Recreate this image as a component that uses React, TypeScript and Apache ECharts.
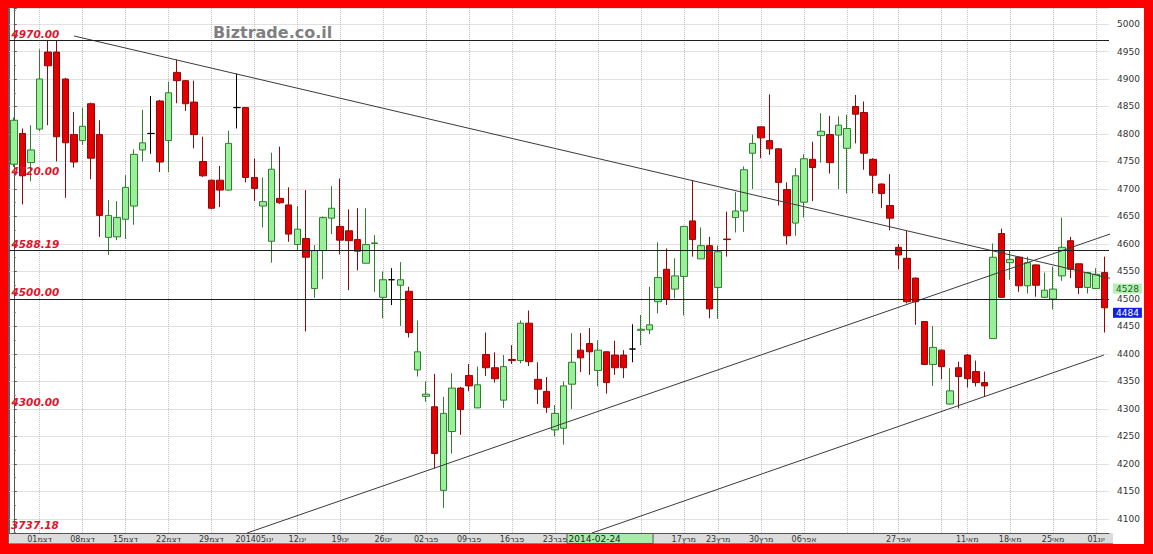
import React, { useEffect, useRef } from "react";
import * as echarts from "echarts";

// Trading days (categories)
const dates: string[] = [
  "2013-11-26", "2013-11-27", "2013-11-28",
  "2013-12-01", "2013-12-02", "2013-12-03", "2013-12-04", "2013-12-05",
  "2013-12-08", "2013-12-09", "2013-12-10", "2013-12-11", "2013-12-12",
  "2013-12-15", "2013-12-16", "2013-12-17", "2013-12-18", "2013-12-19",
  "2013-12-22", "2013-12-23", "2013-12-24", "2013-12-25", "2013-12-26",
  "2013-12-29", "2013-12-30", "2013-12-31", "2014-01-01", "2014-01-02",
  "2014-01-05", "2014-01-06", "2014-01-07", "2014-01-08", "2014-01-09",
  "2014-01-12", "2014-01-13", "2014-01-14", "2014-01-15", "2014-01-16",
  "2014-01-19", "2014-01-20", "2014-01-21", "2014-01-22", "2014-01-23",
  "2014-01-26", "2014-01-27", "2014-01-28", "2014-01-29", "2014-01-30",
  "2014-02-02", "2014-02-03", "2014-02-04", "2014-02-05", "2014-02-06",
  "2014-02-09", "2014-02-10", "2014-02-11", "2014-02-12", "2014-02-13",
  "2014-02-16", "2014-02-17", "2014-02-18", "2014-02-19", "2014-02-20",
  "2014-02-23", "2014-02-24", "2014-02-25", "2014-02-26", "2014-02-27",
  "2014-03-02", "2014-03-03", "2014-03-04", "2014-03-05", "2014-03-06",
  "2014-03-09", "2014-03-10", "2014-03-11", "2014-03-12", "2014-03-13",
  "2014-03-17", "2014-03-18", "2014-03-19", "2014-03-20",
  "2014-03-23", "2014-03-24", "2014-03-25", "2014-03-26", "2014-03-27",
  "2014-03-30", "2014-03-31", "2014-04-01", "2014-04-02", "2014-04-03",
  "2014-04-06", "2014-04-07", "2014-04-08", "2014-04-09", "2014-04-10",
  "2014-04-13", "2014-04-16", "2014-04-17",
  "2014-04-22", "2014-04-23", "2014-04-24",
  "2014-04-27", "2014-04-28", "2014-04-29", "2014-04-30", "2014-05-01",
  "2014-05-04", "2014-05-07", "2014-05-08",
  "2014-05-11", "2014-05-12", "2014-05-13", "2014-05-14", "2014-05-15",
  "2014-05-18", "2014-05-19", "2014-05-20", "2014-05-21", "2014-05-22",
  "2014-05-25", "2014-05-26", "2014-05-27", "2014-05-28", "2014-05-29",
  "2014-06-01", "2014-06-02",
];

const opens: number[] = [
  4745, 4801, 4748, 4809, 4949, 4949, 4900, 4799, 4788, 4855,
  4799, 4612, 4613, 4645, 4669, 4771, 4801, 4860, 4788, 4912,
  4897, 4858, 4750, 4716, 4716, 4698, 4848, 4848, 4721, 4669,
  4605, 4683, 4671, 4599, 4610, 4519, 4588, 4647, 4632, 4624,
  4608, 4565, 4601, 4503, 4535, 4525, 4514, 4371, 4323, 4304,
  4152, 4259, 4338, 4361, 4302, 4399, 4375, 4316, 4390, 4388,
  4456, 4354, 4332, 4262, 4265, 4345, 4407, 4419, 4370, 4404,
  4398, 4398, 4409, 4443, 4444, 4495, 4554, 4518, 4541, 4642,
  4573, 4597, 4521, 4609, 4648, 4660, 4765, 4813, 4788, 4773,
  4699, 4638, 4676, 4754, 4797, 4799, 4798, 4774, 4850, 4839,
  4754, 4709, 4670, 4594, 4574, 4538, 4459, 4381, 4407, 4309,
  4375, 4398, 4368, 4348, 4428, 4619, 4566, 4576, 4524, 4562,
  4503, 4500, 4542, 4606, 4564, 4521, 4519, 4548,
];
const closes: number[] = [
  4825, 4724, 4771, 4900, 4924, 4795, 4784, 4749, 4814, 4756,
  4652, 4652, 4648, 4703, 4763, 4784, 4801, 4749, 4875, 4897,
  4855, 4799, 4724, 4665, 4698, 4783, 4848, 4721, 4701, 4677,
  4736, 4675, 4618, 4627, 4576, 4588, 4648, 4665, 4607, 4606,
  4587, 4599, 4602, 4535, 4535, 4535, 4439, 4404, 4327, 4219,
  4292, 4338, 4299, 4342, 4344, 4375, 4355, 4377, 4388, 4456,
  4386, 4336, 4303, 4292, 4342, 4385, 4393, 4404, 4407, 4348,
  4375, 4375, 4409, 4445, 4453, 4539, 4500, 4542, 4632, 4608,
  4597, 4482, 4586, 4608, 4660, 4735, 4783, 4793, 4773, 4712,
  4615, 4724, 4755, 4739, 4805, 4748, 4816, 4810, 4836, 4765,
  4725, 4692, 4647, 4580, 4495, 4495, 4381, 4412, 4377, 4333,
  4359, 4355, 4348, 4342, 4576, 4503, 4572, 4524, 4566, 4525,
  4516, 4518, 4594, 4554, 4521, 4548, 4545, 4484,
];
const lows: number[] = [
  4740, 4672, 4714, 4805, 4816, 4750, 4684, 4739, 4780, 4718,
  4613, 4580, 4607, 4609, 4635, 4750, 4764, 4731, 4731, 4856,
  4842, 4774, 4722, 4663, 4667, 4697, 4810, 4712, 4678, 4630,
  4566, 4673, 4604, 4588, 4441, 4502, 4536, 4618, 4581, 4516,
  4552, 4565, 4513, 4465, 4489, 4451, 4430, 4359, 4313, 4192,
  4120, 4219, 4253, 4332, 4302, 4360, 4348, 4302, 4382, 4383,
  4378, 4309, 4293, 4250, 4235, 4300, 4367, 4362, 4341, 4328,
  4362, 4356, 4385, 4416, 4436, 4474, 4489, 4501, 4470, 4577,
  4573, 4465, 4464, 4577, 4621, 4622, 4700, 4756, 4762, 4670,
  4599, 4615, 4648, 4678, 4748, 4728, 4700, 4692, 4783, 4735,
  4692, 4665, 4625, 4554, 4492, 4453, 4380, 4342, 4354, 4308,
  4301, 4339, 4341, 4322, 4428, 4502, 4535, 4513, 4510, 4504,
  4502, 4481, 4533, 4538, 4509, 4510, 4518, 4439,
];
const highs: number[] = [
  4830, 4810, 4816, 4954, 4971, 4971, 4902, 4840, 4848, 4857,
  4825, 4680, 4678, 4725, 4772, 4844, 4869, 4862, 4895, 4935,
  4898, 4897, 4795, 4717, 4742, 4806, 4910, 4849, 4755, 4721,
  4766, 4777, 4703, 4669, 4698, 4598, 4650, 4705, 4719, 4663,
  4665, 4665, 4616, 4550, 4556, 4567, 4522, 4461, 4350, 4364,
  4322, 4365, 4340, 4382, 4377, 4439, 4403, 4398, 4416, 4461,
  4479, 4385, 4358, 4307, 4350, 4438, 4438, 4447, 4425, 4405,
  4424, 4407, 4454, 4471, 4522, 4603, 4592, 4574, 4633, 4716,
  4630, 4613, 4597, 4659, 4694, 4741, 4799, 4814, 4872, 4774,
  4712, 4738, 4763, 4786, 4838, 4833, 4832, 4835, 4871, 4859,
  4756, 4710, 4727, 4600, 4624, 4539, 4460, 4451, 4408, 4374,
  4386, 4400, 4388, 4368, 4601, 4628, 4589, 4577, 4577, 4563,
  4548, 4559, 4648, 4613, 4565, 4549, 4556, 4577,
];

// Doji days drawn in black
const blackDojiDates: string[] = ["2013-12-18", "2014-01-01", "2014-01-27", "2014-03-06"];

// Week grid lines and x-axis tick labels
const weekStarts: string[] = [
  "2013-12-01", "2013-12-08", "2013-12-15", "2013-12-22", "2013-12-29",
  "2014-01-05", "2014-01-12", "2014-01-19", "2014-01-26", "2014-02-02",
  "2014-02-09", "2014-02-16", "2014-02-23", "2014-03-02", "2014-03-09",
  "2014-03-17", "2014-03-23", "2014-03-30", "2014-04-06", "2014-04-13",
  "2014-04-22", "2014-04-27", "2014-05-04", "2014-05-11", "2014-05-18",
  "2014-05-25", "2014-06-01",
];
const labelDates: string[] = [
  "2013-12-01", "2013-12-08", "2013-12-15", "2013-12-22", "2013-12-29",
  "2014-01-05", "2014-01-12", "2014-01-19", "2014-01-26", "2014-02-02",
  "2014-02-09", "2014-02-16", "2014-02-23", "2014-03-17", "2014-03-23",
  "2014-03-30", "2014-04-06", "2014-04-27", "2014-05-11", "2014-05-18",
  "2014-05-25", "2014-06-01",
];
const labelTexts: string[] = [
  "01דצמ", "08דצמ", "15דצמ", "22דצמ", "29דצמ",
  "201405ינו", "12ינו", "19ינו", "26ינו", "02פבר",
  "09פבר", "16פבר", "23פבר", "17מרץ", "23מרץ",
  "30מרץ", "06אפר", "27אפר", "11מאי", "18מאי",
  "25מאי", "01יונ",
];
const cursorDate = "2014-02-24";

// Horizontal levels
const levelValues: number[] = [4970, 4720, 4588.19, 4500, 4300];
const levelHasLine: boolean[] = [true, false, true, true, false];
const offscaleLevel = 3737.18;

// Trend lines: [index position, value]
const trendDown: number[][] = [[7.02, 4978.2], [127.97, 4536.4]];
const trendUp: number[][] = [[27.16, 4074.5], [127.97, 4620]];
const trendUpLow: number[][] = [[67.3, 4074.5], [126.9, 4398]];

const refPrice = 4528;
const lastPrice = 4484;

const RED_LABEL = "#e0142a";

export default function App() {
  const ref = useRef<HTMLDivElement>(null);

  useEffect(() => {
    const chart = echarts.init(ref.current!, null, { renderer: "svg" });
    const weekSet = new Set(weekStarts);
    const labelMap = new Map<string, string>(labelDates.map((d, i) => [d, labelTexts[i]]));

    const candleData = dates.map((d, i) => {
      const v = [opens[i], closes[i], lows[i], highs[i]];
      if (blackDojiDates.includes(d)) {
        return {
          value: v,
          itemStyle: {
            color: "#000",
            color0: "#000",
            borderColor: "#000",
            borderColor0: "#000",
            borderColorDoji: "#000",
          },
        };
      }
      return v;
    });

    const levelMarks: any[] = levelValues.map((lv, i) => ({
      yAxis: lv,
      lineStyle: {
        color: levelHasLine[i] ? "#1e1e1e" : "rgba(0,0,0,0)",
        width: 1,
        type: "solid",
      },
      label: {
        show: true,
        position: "insideStartTop",
        formatter: lv.toFixed(2),
        color: RED_LABEL,
        fontStyle: "italic",
        fontWeight: "bold",
        fontSize: 10.5,
        fontFamily: "DejaVu Sans",
        distance: [2, 1],
      },
    }));

    const tagMarks: any[] = [
      {
        yAxis: refPrice,
        lineStyle: { color: "rgba(0,0,0,0)" },
        label: {
          show: true,
          position: "end",
          formatter: String(refPrice),
          backgroundColor: "#b4f0b4",
          color: "#1d5e1d",
          fontSize: 9,
          fontFamily: "DejaVu Sans",
          padding: [1, 3, 0, 3],
          distance: 4,
          offset: [0, 5],
        },
      },
      {
        yAxis: lastPrice,
        lineStyle: { color: "rgba(0,0,0,0)" },
        label: {
          show: true,
          position: "end",
          formatter: String(lastPrice),
          backgroundColor: "#1020e0",
          color: "#ffffff",
          fontSize: 9,
          fontFamily: "DejaVu Sans",
          padding: [1, 3, 0, 3],
          distance: 4,
          offset: [0, 5],
        },
      },
    ];

    const trendSeries = [trendDown, trendUp, trendUpLow].map((seg) => ({
      type: "line",
      xAxisIndex: 1,
      yAxisIndex: 0,
      data: seg,
      symbol: "none",
      clip: false,
      silent: true,
      z: 4,
      lineStyle: { color: "#3a3a3a", width: 1 },
    }));

    chart.setOption({
      animation: false,
      backgroundColor: "transparent",
      grid: { left: 9.5, top: 8, width: 1099.5, height: 525, containLabel: false, outerBoundsMode: "none" },
      xAxis: [
        {
          type: "category",
          data: dates,
          boundaryGap: true,
          axisLine: { show: true, lineStyle: { color: "#555" } },
          axisTick: { show: false },
          axisLabel: {
            interval: (_i: number, v: string) => labelMap.has(v),
            formatter: (v: string) => labelMap.get(v) ?? "",
            color: "#333",
            fontSize: 8,
            fontFamily: "DejaVu Sans",
            margin: 2,
            hideOverlap: false,
          },
          splitLine: {
            show: true,
            alignWithLabel: true,
            interval: (_i: number, v: string) => weekSet.has(v),
            lineStyle: { color: "#c2c2c2", type: "dotted", width: 1 },
          },
        },
        { type: "value", min: -0.5, max: 127.5, show: false },
      ],
      yAxis: {
        type: "value",
        position: "right",
        offset: 4,
        min: 4074.5,
        max: 5029.1,
        splitNumber: 19,
        minInterval: 50,
        maxInterval: 50,
        axisLine: { show: true, lineStyle: { color: "#555" } },
        axisTick: { show: true, length: 3, lineStyle: { color: "#555" } },
        minorTick: { show: true, splitNumber: 2, length: 2, lineStyle: { color: "#777" } },
        axisLabel: {
          showMinLabel: false,
          showMaxLabel: false,
          formatter: (v: number) => String(Math.round(v)),
          color: "#333",
          fontSize: 9,
          fontFamily: "DejaVu Sans",
          margin: 4,
        },
        splitLine: { show: true, lineStyle: { color: "#c2c2c2", type: "dotted", width: 1 } },
      },
      series: [
        {
          type: "candlestick",
          data: candleData,
          barWidth: 7,
          itemStyle: {
            color: "#98f098",
            color0: "#e40000",
            borderColor: "#2f7f2f",
            borderColor0: "#8e0a0a",
            borderWidth: 1,
          },
          markLine: {
            silent: true,
            symbol: ["none", "none"],
            animation: false,
            data: [...levelMarks, ...tagMarks],
          },
        },
        ...trendSeries,
      ],
    });

    const px = chart.convertToPixel({ xAxisIndex: 0 }, cursorDate) as number;
    chart.setOption({
      graphic: [
        {
          type: "text",
          x: 213,
          y: 32,
          z: 50,
          silent: true,
          style: {
            text: "Biztrade.co.il",
            fill: "#808080",
            fontSize: 16,
            fontWeight: "bold",
            fontFamily: "DejaVu Sans",
            verticalAlign: "middle",
          },
        },
        {
          type: "text",
          x: 11,
          y: 525,
          z: 50,
          silent: true,
          style: {
            text: offscaleLevel.toFixed(2),
            fill: RED_LABEL,
            fontSize: 10.5,
            fontStyle: "italic",
            fontWeight: "bold",
            fontFamily: "DejaVu Sans",
            verticalAlign: "middle",
          },
        },
        {
          type: "rect",
          z: 100,
          silent: true,
          shape: { x: px + 3.5, y: 533.5, width: 86, height: 10 },
          style: { fill: "#a8eca8", stroke: "#555", lineWidth: 1 },
        },
        {
          type: "text",
          z: 101,
          silent: true,
          x: px + 5,
          y: 538.8,
          style: {
            text: cursorDate,
            fill: "#222",
            fontSize: 9,
            fontFamily: "DejaVu Sans",
            verticalAlign: "middle",
          },
        },
      ],
    });

    return () => chart.dispose();
  }, []);

  return (
    <div style={{ position: "fixed", left: 0, top: 0, width: 1153, height: 554, background: "#ff0000" }}>
      <div style={{ position: "absolute", left: 8, top: 8, width: 1136, height: 536, background: "#ffffff" }} />
      <div style={{ position: "absolute", left: 8, top: 8, width: 2, height: 536, background: "#606060" }} />
      <div
        style={{
          position: "absolute",
          left: 9,
          top: 533,
          width: 1104,
          height: 10,
          background: "#dcdcdc",
          borderBottom: "1px solid #888",
        }}
      />
      <div ref={ref} style={{ position: "absolute", left: 0, top: 0, width: 1153, height: 554 }} />
    </div>
  );
}
